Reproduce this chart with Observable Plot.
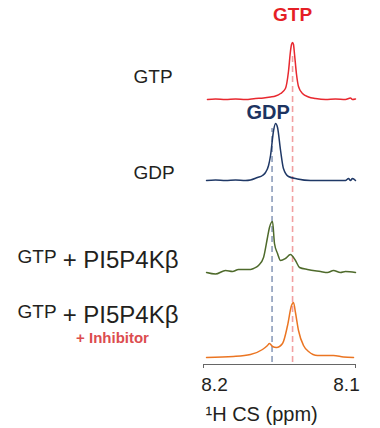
<!DOCTYPE html>
<html><head><meta charset="utf-8">
<script src="https://cdn.jsdelivr.net/npm/d3@7"></script>
<script src="https://cdn.jsdelivr.net/npm/@observablehq/plot@0.6"></script>
<style>body{margin:0;background:#fff}#chart svg{display:block}</style>
</head><body><div id="chart"></div>
<script>
// Spectra: chemical shift (ppm) and intensity (arbitrary units)
const gtpPpm = [8.1974,8.1921,8.1855,8.1789,8.1724,8.1658,8.1605,8.1559,8.1526,8.1493,8.1461,8.1441,8.1428,8.1421,8.1414,8.1408,8.1401,8.1388,8.1375,8.1349,8.1309,8.1263,8.1197,8.1132,8.1066,8.1033,8.1020,8.1000];
const gtpInt = [0,0.005,0,0.005,0,0.01,0.015,0.025,0.035,0.06,0.11,0.28,0.48,0.55,0.57,0.55,0.45,0.25,0.13,0.06,0.025,0.01,0,0.005,0,0.015,0,0.005];

const gdpPpm = [8.1980,8.1921,8.1855,8.1789,8.1724,8.1691,8.1645,8.1612,8.1592,8.1572,8.1559,8.1539,8.1526,8.1513,8.1493,8.1474,8.1441,8.1382,8.1296,8.1164,8.1066,8.1046,8.1033,8.1020,8.1000];
const gdpInt = [0,0.005,0,0.005,0,0.005,0.03,0.05,0.08,0.15,0.25,0.50,0.57,0.53,0.30,0.12,0.04,0.015,0,0,0,0.02,0,0.02,0];

const kinPpm = [8.1980,8.1921,8.1855,8.1809,8.1770,8.1691,8.1671,8.1638,8.1605,8.1579,8.1566,8.1546,8.1533,8.1513,8.1493,8.1461,8.1428,8.1395,8.1368,8.1316,8.1230,8.1184,8.1145,8.1099,8.1066,8.1000];
const kinInt = [0,-0.015,0.02,0.01,0.03,0.03,0.04,0.07,0.15,0.35,0.45,0.51,0.29,0.19,0.12,0.14,0.18,0.12,0.05,0.03,0.01,0,0.02,0,0.01,0];

const inhPpm = [8.1980,8.1803,8.1691,8.1612,8.1579,8.1566,8.1546,8.1520,8.1480,8.1447,8.1421,8.1408,8.1395,8.1375,8.1342,8.1309,8.1250,8.1145,8.1079,8.1013];
const inhInt = [0,0.01,0.03,0.08,0.12,0.14,0.11,0.10,0.14,0.32,0.52,0.55,0.45,0.27,0.12,0.06,0.02,0.02,0.005,0];

const seriesNames = ["GTP","GDP","GTP + PI5P4Kβ","GTP + PI5P4Kβ + Inhibitor"];
const refNames = ["GTP","GDP"];
const refPpm = [8.1414, 8.1549];
const xTicks = [8.2, 8.1];
const xLabel = "¹H CS (ppm)";

// layout (stacking)
const offsets = [2.65, 1.84, 0.92, 0.07];
const colors = ["#e8282f", "#1f3866", "#4e6a2b", "#eb7522"];
const refColors = ["#f2a0a2", "#8d9dbb"];
const refTop = [3.09, 2.36];

const spectra = [[gtpPpm,gtpInt],[gdpPpm,gdpInt],[kinPpm,kinInt],[inhPpm,inhInt]];
const rows = spectra.flatMap(([p, v], k) => p.map((x, i) => ({s: seriesNames[k], x, y: v[i] + offsets[k]})));
const refs = refPpm.map((x, i) => ({name: refNames[i], x, y1: 0.02, y2: refTop[i], c: refColors[i]}));

const font = "Liberation Sans, Arial, Helvetica, sans-serif";
const ink = "#231f20";

const plot = Plot.plot({
  width: 380, height: 428,
  marginLeft: 203, marginRight: 25, marginTop: 0, marginBottom: 64,
  style: {fontFamily: font, background: "#fff"},
  x: {domain: [8.2, 8.1], axis: null},
  y: {domain: [0, 3.64], axis: null},
  color: {domain: seriesNames, range: colors},
  marks: [
    Plot.ruleX(refs, {x: "x", y1: "y1", y2: "y2", stroke: "c", strokeWidth: 1.6, strokeDasharray: "6,4"}),
    Plot.line(rows, {x: "x", y: "y", z: "s", stroke: "s", strokeWidth: 1.5, curve: "monotone-x"}),
    // axis
    Plot.ruleY([0], {x1: xTicks[0], x2: xTicks[1], stroke: "#666", strokeWidth: 1}),
    Plot.ruleX(xTicks, {x: d => d, y1: 0, y2: -0.04, stroke: "#666", strokeWidth: 1}),
    Plot.text([xTicks[0]], {x: d => d, y: 0, text: d => d.toFixed(1), dy: 26, dx: 11, fontSize: 19, fill: ink, lineAnchor: "bottom"}),
    Plot.text([xTicks[1]], {x: d => d, y: 0, text: d => d.toFixed(1), dy: 26, dx: -9, fontSize: 19, fill: ink, lineAnchor: "bottom"}),
    Plot.text([xLabel], {x: xTicks[0], y: 0, text: d => d, dy: 56, dx: 2, textAnchor: "start", fontSize: 20, fill: ink, lineAnchor: "bottom"}),
    // peak labels
    Plot.text([0], {x: refPpm[0], y: 3.44, text: () => refNames[0], fontSize: 19, fontWeight: "bold", fill: "#e51f26", lineAnchor: "bottom"}),
    Plot.text([1], {x: refPpm[1], y: 2.46, text: () => refNames[1], fontSize: 20, fontWeight: "bold", fill: "#1d3461", lineAnchor: "bottom", dx: -4}),
    // row labels
    Plot.text([seriesNames[0]], {x: xTicks[0], y: 2.82, text: d => d, dx: -70, textAnchor: "start", fontSize: 19, fill: ink, lineAnchor: "bottom"}),
    Plot.text([seriesNames[1]], {x: xTicks[0], y: 1.86, text: d => d, dx: -70, textAnchor: "start", fontSize: 19, fill: ink, lineAnchor: "bottom"}),
    Plot.text([1.02, 0.47], {x: xTicks[0], y: d => d, text: () => "GTP", dx: -186, textAnchor: "start", fontSize: 19, fill: ink, lineAnchor: "bottom"}),
    Plot.text([0.97, 0.42], {x: xTicks[0], y: d => d, text: () => "+ PI5P4Kβ", dx: -25, textAnchor: "end", fontSize: 24, fill: ink, lineAnchor: "bottom"}),
    Plot.text(["+ Inhibitor"], {x: xTicks[0], y: 0.22, text: d => d, dx: -91, textAnchor: "middle", fontSize: 15, fontWeight: "bold", fill: "#dc4d4f", lineAnchor: "bottom"})
  ]
});
document.getElementById("chart").appendChild(plot);
</script>
</body></html>
